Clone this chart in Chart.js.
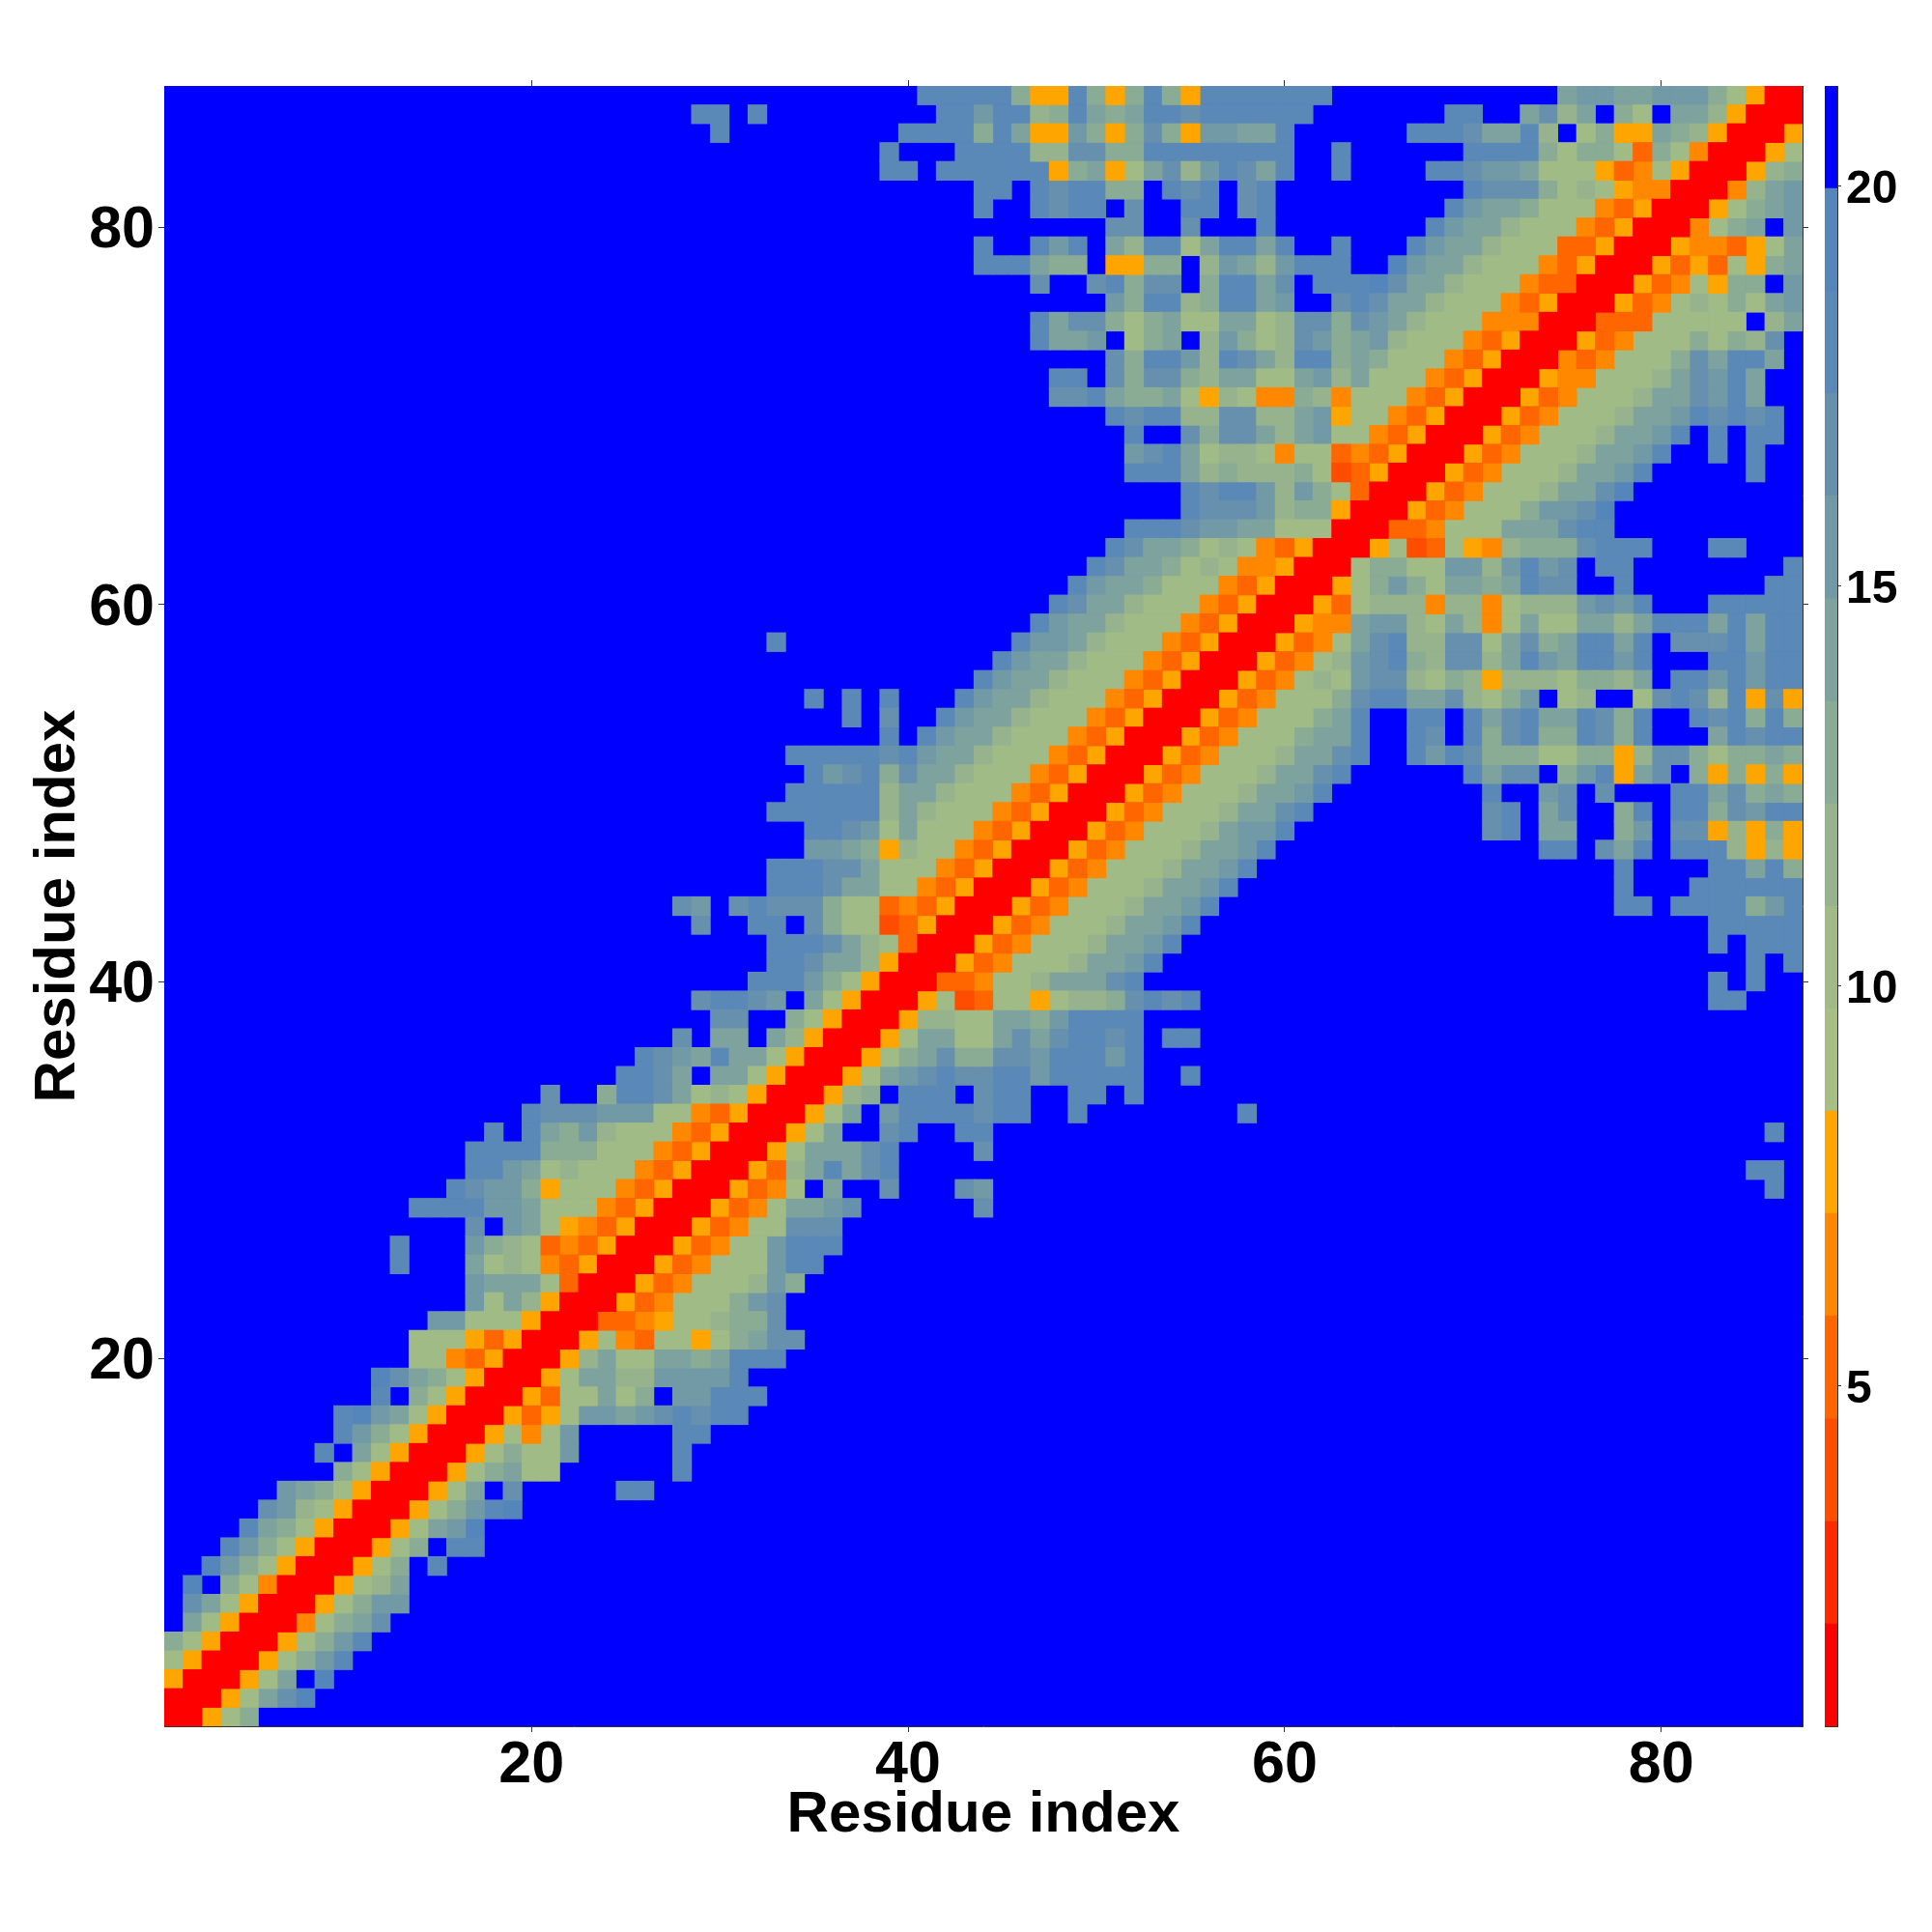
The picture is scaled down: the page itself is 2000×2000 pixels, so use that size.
<!DOCTYPE html>
<html>
<head>
<meta charset="utf-8">
<title>Residue distance map</title>
<script src="https://cdn.jsdelivr.net/npm/chart.js@4"></script>
<style>
  html, body { margin: 0; padding: 0; background: #fff; }
  #map { position: absolute; left: 0; top: 0; }
  #bar { position: absolute; left: 1880px; top: 0; }
</style>
</head>
<body>
<canvas id="map" width="2000" height="2000"></canvas>
<canvas id="bar" width="120" height="2000"></canvas>
<script>
// colour bar bands, bottom to top
const bandEdges = [0.75, 2.03, 3.31, 4.59, 5.88, 7.16, 8.44, 9.72, 11, 12.28, 13.56, 14.84, 16.13, 17.41, 18.69, 19.97, 21.25];
const bandColors = ['#ff0000', '#ff2a00', '#ff4d00', '#ff6600', '#ff8800', '#ffa500', '#a6bf84', '#a1bb87',
  '#96b38d', '#8aab94', '#7ea29d', '#7199a6', '#6690ae', '#5a88b7', '#5485bb', '#0000ff'];

const residueTicks = [20, 40, 60, 80];
const barTicks = [5, 10, 15, 20];
const residueCount = 87;

// map is symmetric. row n starts at residue n, one hex digit = band index per residue,
// anything past the end of a row is the top band. spaces are only for reading
const upperRows = [
  "00579",
  "0057ace",
  "0057afe",
  "00579bd",
  "00579bd",
  "00479ac",
  "00579bb",
  "00578a",
  "00579fd",
  "00579fdd",
  "0057abe",
  "00579bde",
  "0057afc fffff dd",
  "00579a77 ffffff d",
  "0057977b fffff d",
  "005747b fffff dd",
  "005357bbabcdcdd",
  "005377a79fbbddd",
  "0057aa88bbbbd",
  "0058a77aa9addd",
  "00574377579acc",
  "00334577899c",
  "005347779bc",
  "005347778b9",
  "00534777bdd",
  "0053477bddd",
  "0053477ccc",
  "005347aabc ffffff c",
  "005347faffcfffcb ffffffffff ffffffffff ffffffffff ffffffffff f d",
  "00538adacd ffffffffff ffffffffff ffffffffff ffffffffff fffff dd",
  "0057aaacd ffff c",
  "0057affcdffdd ffffffffff ffffffffff ffffffffff ffffffffff f d",
  "0057afbddddcddffd ffffffff d",
  "00589fdddfcddffddfd",
  "0057abcdccddbdddddffd",
  "00579ac99ccbdddbd",
  "0057aa77acacddcdfdd",
  "0058877aa9bdddd",
  "0057237757889cdcd ffffffffff ffffffffff fffffff dd",
  "00334778aaacd ffffffffff ffffffffff ffffffffff dfd",
  "005347778aabd ffffffffff ffffffffff ffffffffff f dfd",
  "005347778aabd ffffffffff ffffffffff ffffffff dfddd",
  "005347778aabd ffffffffff ffffffffff fffffff ddddd",
  "005347778aabd ffffffffff ffffffffff f ddfdddd9bd",
  "005347778aabd ffffffffff ffffffffff dfff dddddd",
  "005347778aabd ffffffffff fffffffff dffff ddad9",
  "005347778aabd ffffffffff ffff ddfcadfddd8585",
  "005347778abbd ffffffffff cdfaaff9bfcc58595",
  "005347778aacd fffffffff cdfacff9dfdd9cbdd",
  "005347778aabd ffffffff dffbcfcfffddac9a9",
  "005347778aacd ffffff daccf9bd5acf959595",
  "005347778aacd ff dbdc999779958cc9799a9",
  "005347779aad ff dcfd9cd99dc9dfffadcdd",
  "005347779ad ff ddfdacdaadc9dffdcd9d9",
  "005347779cddaac879bf78ff7cdc8d5c5",
  "00534787bcc879858887998afddbdbdd",
  "0053478bcd98cc8adbaddbdfffddbdd",
  "005347acd88cc7ac9addadfcccdadd",
  "00544abb87a847a77aa8adddadadd",
  "0053788848847888bcbdfffddddd",
  "00579b97aa9adccffd fffffff dd",
  "0079977bb8bdbcfdd ffffffff d",
  "0057237548999cdddfffdd",
  "00334777aaacdd",
  "005347779bbce",
  "005347778aace",
  "005347778aabd fffff d",
  "005347778aabd ffdfd",
  "005347778aabd fdfdd",
  "005347778aabd cdcd",
  "005347778aacbda",
  "005447778acbda",
  "004347779cadda",
  "005347779798c",
  "0033377777f8a",
  "0053478797ab",
  "005347599fb",
  "005353759a",
  "00544357a",
  "00479afb",
  "00579ab",
  "0048ab",
  "00589",
  "0057",
  "005",
  "00",
  "0"
];

const rows = upperRows.map(r => r.replace(/ /g, ''));

function bandAt(a, b) {
  const lo = Math.min(a, b), hi = Math.max(a, b);
  const ch = rows[lo - 1][hi - lo];
  return ch === undefined ? 15 : parseInt(ch, 16);
}

function distanceAt(a, b) {
  const k = bandAt(a, b);
  return (bandEdges[k] + bandEdges[k + 1]) / 2;
}

// one scatter dataset per colour band
const cells = bandColors.map(() => []);
for (let y = 1; y <= residueCount; y++) {
  for (let x = 1; x <= residueCount; x++) {
    const v = distanceAt(x, y);
    const k = bandEdges.findIndex((e, i) => v >= e && v < bandEdges[i + 1]);
    cells[k].push({ x: x, y: y });
  }
}

const lineColor = '#333333';
const fontName = '"Liberation Sans", Arial, sans-serif';

function cellRadius(ctx) {
  const sc = ctx.chart.scales.x;
  const size = sc.getPixelForValue(2) - sc.getPixelForValue(1);
  return (size + 0.8) / Math.SQRT2;
}

function fixedTicks(values) {
  return function (scale) {
    scale.ticks = values.map(v => ({ value: v }));
  };
}

// blank first line pushes the y labels down a few px
function nudgedLabel(v) {
  return ['', String(v)];
}

function residueAxis(position, fitSize, labelled, titleCfg) {
  const horizontal = position === 'top' || position === 'bottom';
  return {
    type: 'linear',
    position: position,
    min: 0.5,
    max: 87.5,
    afterBuildTicks: fixedTicks(residueTicks),
    afterFit: function (scale) {
      if (horizontal) scale.height = fitSize; else scale.width = fitSize;
    },
    grid: { drawOnChartArea: false, drawTicks: true, tickLength: 6, color: lineColor, lineWidth: 1 },
    border: { display: true, color: lineColor, width: 1 },
    ticks: {
      display: labelled,
      autoSkip: false,
      maxRotation: 0,
      minRotation: 0,
      padding: horizontal ? -1 : 4,
      color: '#000',
      font: horizontal
        ? { family: fontName, weight: 'bold', size: 61 }
        : { family: fontName, weight: 'bold', size: 61, lineHeight: '8px' },
      callback: horizontal ? (v => String(v)) : nudgedLabel
    },
    title: titleCfg || { display: false }
  };
}

// top band shows through the hairline seams between cells otherwise
const plotBackground = {
  id: 'plotBackground',
  beforeDatasetsDraw(chart) {
    const a = chart.chartArea;
    chart.ctx.save();
    chart.ctx.fillStyle = bandColors[15];
    chart.ctx.fillRect(a.left, a.top, a.right - a.left, a.bottom - a.top);
    chart.ctx.restore();
  }
};

new Chart(document.getElementById('map'), {
  type: 'scatter',
  plugins: [plotBackground],
  data: {
    datasets: cells.map((pts, k) => ({
      label: 'band ' + k,
      data: pts,
      clip: 0,
      pointStyle: 'rect',
      pointRadius: cellRadius,
      pointHoverRadius: cellRadius,
      pointBorderWidth: 0,
      pointBackgroundColor: bandColors[k]
    }))
  },
  options: {
    responsive: false,
    animation: false,
    devicePixelRatio: 1,
    events: [],
    layout: { padding: 0 },
    plugins: { legend: { display: false }, tooltip: { enabled: false } },
    scales: {
      x: residueAxis('bottom', 213, true, {
        display: true, text: 'Residue index', color: '#000',
        font: { family: fontName, weight: 'bold', size: 60 },
        padding: { top: 0, bottom: 85 }
      }),
      x2: residueAxis('top', 89, false),
      y: residueAxis('left', 170, true, {
        display: true, text: 'Residue index', color: '#000',
        font: { family: fontName, weight: 'bold', size: 60 },
        padding: { top: 24, bottom: 0 }
      }),
      y2: residueAxis('right', 134, false)
    }
  }
});

// colour bar
function edgeAxis(position, fitSize) {
  return {
    position: position,
    afterFit: function (scale) {
      if (position === 'top' || position === 'bottom') scale.height = fitSize; else scale.width = fitSize;
    },
    grid: { display: false },
    border: { display: true, color: lineColor, width: 1 },
    ticks: { display: false }
  };
}

new Chart(document.getElementById('bar'), {
  type: 'bar',
  data: {
    labels: ['distance'],
    datasets: bandColors.map((color, k) => ({
      data: [[bandEdges[k], bandEdges[k + 1]]],
      backgroundColor: color,
      grouped: false,
      barPercentage: 1,
      categoryPercentage: 1,
      yAxisID: 'y',
      xAxisID: 'x'
    }))
  },
  options: {
    responsive: false,
    animation: false,
    devicePixelRatio: 1,
    events: [],
    layout: { padding: 0 },
    plugins: { legend: { display: false }, tooltip: { enabled: false } },
    scales: {
      x: edgeAxis('bottom', 213),
      x2: Object.assign(edgeAxis('top', 89), { type: 'linear', min: 0, max: 1 }),
      y2: Object.assign(edgeAxis('left', 9), { type: 'linear', min: bandEdges[0], max: bandEdges[16] }),
      y: {
        type: 'linear',
        position: 'right',
        min: bandEdges[0],
        max: bandEdges[16],
        afterBuildTicks: fixedTicks(barTicks),
        afterFit: function (scale) { scale.width = 98; },
        grid: { drawOnChartArea: false, drawTicks: true, tickLength: 4, color: lineColor, lineWidth: 1 },
        border: { display: true, color: lineColor, width: 1 },
        ticks: {
          autoSkip: false,
          padding: 5,
          color: '#000',
          font: { family: fontName, weight: 'bold', size: 48, lineHeight: '8px' },
          callback: nudgedLabel
        }
      }
    }
  }
});
</script>
</body>
</html>
